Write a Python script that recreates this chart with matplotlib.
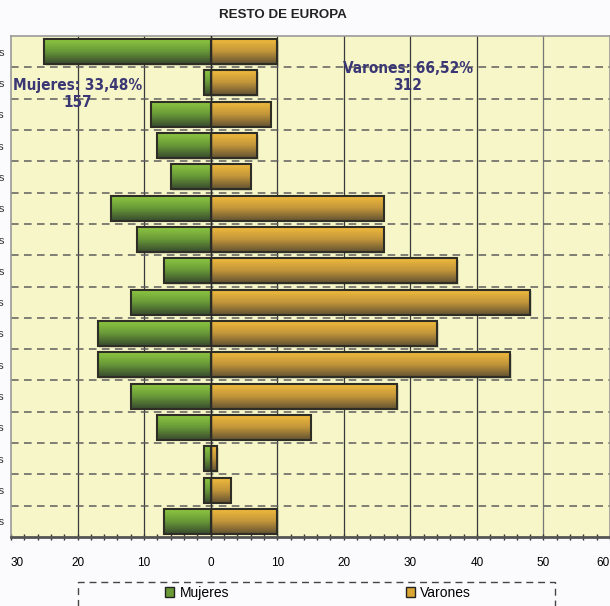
import numpy as np
import matplotlib
matplotlib.use("Agg")
from matplotlib import pyplot as plt
from matplotlib.colors import LinearSegmentedColormap
from matplotlib.patches import Patch, Rectangle
from matplotlib.ticker import MultipleLocator, FuncFormatter

# age groups, top row first
grupos = ["75 y más años", "70 a 74 años", "65 a 69 años", "60 a 64 años",
          "55 a 59 años", "50 a 54 años", "45 a 49 años", "40 a 44 años",
          "35 a 39 años", "30 a 34 años", "25 a 29 años", "20 a 24 años",
          "15 a 19 años", "10 a 14 años", "5 a 9 años", "0 a 4 años"]
mujeres = [25, 1, 9, 8, 6, 15, 11, 7, 12, 17, 17, 12, 8, 1, 1, 7]
varones = [10, 7, 9, 7, 6, 26, 26, 37, 48, 34, 45, 28, 15, 1, 3, 10]
titulo = "RESTO DE EUROPA"
xticks = [-30, -20, -10, 0, 10, 20, 30, 40, 50, 60]

total = sum(mujeres) + sum(varones)
pct_m = 100 * sum(mujeres) / total
pct_v = 100 * sum(varones) / total

verde = LinearSegmentedColormap.from_list("verde", ["#8fca42", "#699a38", "#384a2e"])
naranja = LinearSegmentedColormap.from_list("naranja", ["#f4bd3c", "#c3963a", "#625232"])

fig = plt.figure(figsize=(6.10, 6.06), dpi=100)
fig.patch.set_facecolor("#fbfbfd")
ax = fig.add_axes([11 / 610, 69 / 606, 599 / 610, 501 / 606])
ax.set_facecolor("#f6f6c8")

y = np.arange(len(grupos))
grad = np.linspace(0, 1, 64).reshape(-1, 1)

def gradient_bars(values, cmap):
  bars = ax.barh(y, values, height=0.8, facecolor="none", edgecolor="#2e2e26",
                 linewidth=1.5, zorder=4)
  for b in bars:
    x0 = b.get_x()
    x1 = x0 + b.get_width()
    y0 = b.get_y()
    h = b.get_height()
    # soft shadow
    ax.add_patch(Rectangle((x0 + 0.25, y0 + 0.05), b.get_width(), h,
                           facecolor="#000000", alpha=0.12, edgecolor="none", zorder=2))
    ax.imshow(grad, cmap=cmap, aspect="auto", origin="upper",
              extent=(min(x0, x1), max(x0, x1), y0 + h, y0), zorder=3)
  return bars

gradient_bars([-v for v in mujeres], verde)
gradient_bars(varones, naranja)

ax.set_xlim(-30, 60)
ax.set_ylim(len(grupos) - 0.5, -0.5)

# grid
for xv in range(-20, 60, 10):
  ax.axvline(xv, color="#3a3a3a" if xv != 50 else "#777777", linewidth=0.9, zorder=1)
ax.axvline(0, color="#2a2a2a", linewidth=1.0, zorder=5)
for i in range(len(grupos) - 1):
  ax.axhline(i + 0.5, color="#5e5e5e", linewidth=1.1, dashes=(5, 3.5), zorder=1)

ax.set_xticks(xticks)
ax.xaxis.set_minor_locator(MultipleLocator(2))
ax.xaxis.set_major_formatter(FuncFormatter(lambda v, p: f"{abs(int(v))}"))
ax.tick_params(axis="x", which="both", direction="inout", length=5, width=1,
               color="#333333", labelsize=8.5, pad=12)
ax.set_yticks(y)
ax.set_yticklabels(grupos, fontsize=8, color="#333333")
ax.tick_params(axis="y", length=0, pad=5)
for lab in ax.get_xticklabels() + ax.get_yticklabels():
  lab.set_family("Liberation Sans")
xlabs = ax.get_xticklabels()
xlabs[0].set_ha("left")
xlabs[-1].set_ha("right")

for side in ["top", "right", "left"]:
  ax.spines[side].set_color("#9a9a9a")
  ax.spines[side].set_linewidth(1.2)
ax.spines["bottom"].set_color("#555555")
ax.spines["bottom"].set_linewidth(2)

txt = dict(ha="center", va="center", fontsize=11, fontweight="bold",
           fontstretch="condensed", color="#3b3775", family="DejaVu Sans",
           linespacing=1.15, zorder=6)
ax.text(-20, 1.35, f"Mujeres: {pct_m:.2f}%".replace(".", ",") + f"\n{sum(mujeres)}", **txt)
ax.text(29.6, 0.8, f"Varones: {pct_v:.2f}%".replace(".", ",") + f"\n{sum(varones)}", **txt)

fig.text(283 / 610, 1 - 15 / 606, titulo, ha="center", va="center",
         fontsize=9.6, fontweight="bold", family="Liberation Sans", color="#222222")

# legend with dashed frame
fig.patches.append(Rectangle((78 / 610, -0.1), 477 / 610, 0.1 + 24 / 606,
                             transform=fig.transFigure, facecolor="none",
                             edgecolor="#444444", linewidth=1, linestyle=(0, (5, 3.5))))
handles = [Patch(facecolor="#6a9a35", edgecolor="#222222", label="Mujeres"),
           Patch(facecolor="#d9a634", edgecolor="#222222", label="Varones")]
fig.legend(handles=handles, loc="center", bbox_to_anchor=(318 / 610, 1 - 593 / 606),
           ncol=2, frameon=False, prop={"family": "Liberation Sans", "size": 10},
           handlelength=0.65, handleheight=0.65, handletextpad=0.4, columnspacing=12.7)

plt.savefig("out.png", dpi=100, facecolor=fig.get_facecolor())
